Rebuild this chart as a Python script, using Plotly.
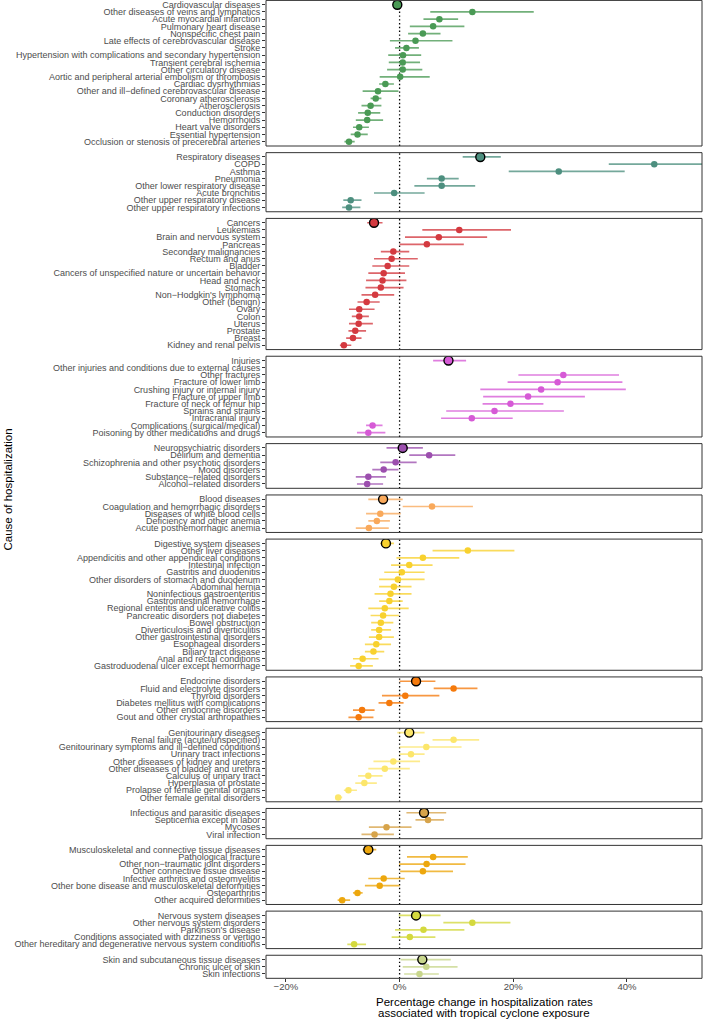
import plotly.graph_objects as go

# ---------------- data ----------------
cardio_labels = ["Cardiovascular diseases", "Other diseases of veins and lymphatics", "Acute myocardial infarction",
                 "Pulmonary heart disease", "Nonspecific chest pain", "Late effects of cerebrovascular disease", "Stroke",
                 "Hypertension with complications and secondary hypertension", "Transient cerebral ischemia",
                 "Other circulatory disease", "Aortic and peripheral arterial embolism or thrombosis",
                 "Cardiac dysrhythmias", "Other and ill\u2212defined cerebrovascular disease", "Coronary atherosclerosis",
                 "Atherosclerosis", "Conduction disorders", "Hemorrhoids", "Heart valve disorders",
                 "Essential hypertension", "Occlusion or stenosis of precerebral arteries"]
cardio_est = [-0.4, 12.8, 7.0, 5.9, 4.1, 2.8, 1.2, 0.6, 0.55, 0.55, 0.1, -2.5, -3.8, -4.2, -5.1, -5.6, -5.7, -7.1, -7.4, -8.9]
cardio_lo = [-1.1, 5.4, 4.2, 1.8, 1.5, -1.7, -0.8, -2.0, -1.9, -2.2, -3.5, -3.6, -6.5, -5.1, -6.7, -7.3, -7.7, -8.2, -8.6, -9.7]
cardio_hi = [0.3, 23.6, 10.3, 11.4, 7.2, 9.3, 3.4, 3.8, 3.6, 4.0, 5.3, -1.0, -0.2, -3.2, -3.2, -3.4, -2.9, -5.4, -5.6, -7.9]

resp_labels = ["Respiratory diseases", "COPD", "Asthma", "Pneumonia", "Other lower respiratory disease",
               "Acute bronchitis", "Other upper respiratory disease", "Other upper respiratory infections"]
resp_est = [14.2, 44.8, 28.0, 7.4, 7.4, -0.95, -8.6, -8.9]
resp_lo = [11.1, 36.8, 19.2, 4.8, 2.6, -4.5, -9.9, -10.1]
resp_hi = [17.8, 56.0, 39.6, 10.4, 13.3, 4.4, -6.7, -6.9]

cancer_labels = ["Cancers", "Leukemias", "Brain and nervous system", "Pancreas", "Secondary malignancies",
                 "Rectum and anus", "Bladder", "Cancers of unspecified nature or uncertain behavior", "Head and neck",
                 "Stomach", "Non\u2212Hodgkin's lymphoma", "Other (benign)", "Ovary", "Colon", "Uterus", "Prostate",
                 "Breast", "Kidney and renal pelvis"]
cancer_est = [-4.5, 10.5, 6.9, 4.8, -1.1, -1.4, -2.1, -2.8, -3.0, -3.3, -4.3, -5.8, -7.1, -7.1, -7.2, -7.8, -8.2, -9.8]
cancer_lo = [-5.7, 4.0, 0.95, 0.0, -3.3, -4.5, -4.8, -5.5, -5.9, -6.0, -6.7, -7.4, -8.9, -8.4, -8.9, -9.0, -9.4, -10.5]
cancer_hi = [-3.0, 19.6, 15.4, 11.3, 1.7, 3.2, 1.7, 0.95, 1.2, 0.7, -0.95, -3.5, -4.4, -5.4, -4.7, -5.9, -6.7, -8.5]

injury_labels = ["Injuries", "Other injuries and conditions due to external causes", "Other fractures",
                 "Fracture of lower limb", "Crushing injury or internal injury", "Fracture of upper limb",
                 "Fracture of neck of femur hip", "Sprains and strains", "Intracranial injury",
                 "Complications (surgical/medical)", "Poisoning by other medications and drugs"]
injury_est = [8.6, None, 28.8, 27.8, 24.9, 22.6, 19.5, 16.7, 12.7, -4.75, -5.5]
injury_lo = [5.9, None, 20.9, 19.0, 14.2, 14.7, 14.6, 8.2, 7.3, -5.9, -7.5]
injury_hi = [11.7, None, 38.6, 39.2, 39.8, 32.6, 25.3, 28.9, 19.9, -3.0, -2.5]

neuro_labels = ["Neuropsychiatric disorders", "Delirium and dementia", "Schizophrenia and other psychotic disorders",
                "Mood disorders", "Substance\u2212related disorders", "Alcohol\u2212related disorders"]
neuro_est = [0.55, 5.2, -0.7, -2.8, -5.5, -5.7]
neuro_lo = [-2.3, 1.7, -3.4, -4.8, -7.7, -7.5]
neuro_hi = [4.1, 9.8, 3.0, -0.2, -2.4, -2.9]

blood_labels = ["Blood diseases", "Coagulation and hemorrhagic disorders", "Diseases of white blood cells",
                "Deficiency and other anemia", "Acute posthemorrhagic anemia"]
blood_est = [-2.9, 5.7, -3.4, -4.0, -5.4]
blood_lo = [-5.5, 0.55, -5.9, -5.5, -7.7]
blood_hi = [0.55, 12.9, 0.2, -1.7, -1.9]

digest_labels = ["Digestive system diseases", "Other liver diseases", "Appendicitis and other appendiceal conditions",
                 "Intestinal infection", "Gastritis and duodenitis", "Other disorders of stomach and duodenum",
                 "Abdominal hernia", "Noninfectious gastroenteritis", "Gastrointestinal hemorrhage",
                 "Regional enteritis and ulcerative colitis", "Pancreatic disorders not diabetes", "Bowel obstruction",
                 "Diverticulosis and diverticulitis", "Other gastrointestinal disorders", "Esophageal disorders",
                 "Biliary tract disease", "Anal and rectal conditions", "Gastroduodenal ulcer except hemorrhage"]
digest_est = [-2.4, 12.0, 4.1, 1.7, 0.4, -0.3, -1.0, -1.6, -1.8, -2.6, -2.9, -3.3, -3.6, -3.6, -4.1, -4.6, -6.5, -7.2]
digest_lo = [-3.4, 5.8, -0.55, -1.5, -2.7, -3.6, -3.6, -4.4, -3.6, -5.5, -5.1, -5.0, -5.0, -5.4, -6.1, -6.1, -8.2, -8.7]
digest_hi = [-1.0, 20.2, 10.5, 5.8, 4.4, 4.4, 2.1, 2.1, 0.55, 1.6, -0.1, -1.1, -1.5, -1.0, -1.5, -2.7, -3.7, -4.7]

endo_labels = ["Endocrine disorders", "Fluid and electrolyte disorders", "Thyroid disorders",
               "Diabetes mellitus with complications", "Other endocrine disorders",
               "Gout and other crystal arthropathies"]
endo_est = [2.9, 9.5, 1.0, -1.8, -6.6, -7.2]
endo_lo = [0.0, 6.0, -3.1, -3.7, -8.2, -9.0]
endo_hi = [6.3, 13.7, 7.0, 0.7, -4.4, -4.6]

gu_labels = ["Genitourinary diseases", "Renal failure (acute/unspecified)",
             "Genitourinary symptoms and ill\u2212defined conditions", "Urinary tract infections",
             "Other diseases of kidney and ureters", "Other diseases of bladder and urethra",
             "Calculus of urinary tract", "Hyperplasia of prostate", "Prolapse of female genital organs",
             "Other female genital disorders"]
gu_est = [1.7, 9.5, 4.7, 2.0, -1.1, -2.6, -5.5, -6.2, -9.0, -10.8]
gu_lo = [-0.4, 5.8, 0.0, 0.0, -4.6, -5.5, -7.3, -7.8, -9.8, -11.3]
gu_hi = [4.4, 14.0, 10.9, 4.4, 3.6, 1.8, -3.0, -4.0, -7.5, -10.1]

infect_labels = ["Infectious and parasitic diseases", "Septicemia except in labor", "Mycoses", "Viral infection"]
infect_est = [4.3, 5.0, -2.3, -4.4]
infect_lo = [1.2, 2.8, -5.4, -6.7]
infect_hi = [8.2, 7.8, 2.1, -1.0]

msk_labels = ["Musculoskeletal and connective tissue diseases", "Pathological fracture",
              "Other non\u2212traumatic joint disorders", "Other connective tissue disease",
              "Infective arthritis and osteomyelitis", "Other bone disease and musculoskeletal deformities",
              "Osteoarthritis", "Other acquired deformities"]
msk_est = [-5.5, 5.9, 4.75, 4.1, -2.8, -3.5, -7.4, -10.1]
msk_lo = [-6.5, 1.3, -0.1, 0.1, -5.5, -6.1, -8.2, -10.9]
msk_hi = [-4.1, 12.0, 11.6, 9.4, 0.9, 0.0, -6.5, -8.7]

nerv_labels = ["Nervous system diseases", "Other nervous system disorders", "Parkinson's disease",
               "Conditions associated with dizziness or vertigo",
               "Other hereditary and degenerative nervous system conditions"]
nerv_est = [2.9, 12.8, 4.2, 1.8, -8.0]
nerv_lo = [-0.15, 7.7, -0.8, -1.4, -9.2]
nerv_hi = [7.2, 19.5, 11.4, 6.3, -5.9]

skin_labels = ["Skin and subcutaneous tissue diseases", "Chronic ulcer of skin", "Skin infections"]
skin_est = [4.0, 4.7, 3.5]
skin_lo = [0.2, 0.55, 0.8]
skin_hi = [9.0, 10.2, 6.9]

x_ticks = [-20, 0, 20, 40]

# ---------------- styling ----------------
panels = [
    (cardio_labels, cardio_est, cardio_lo, cardio_hi, (74, 154, 85)),
    (resp_labels, resp_est, resp_lo, resp_hi, (77, 143, 127)),
    (cancer_labels, cancer_est, cancer_lo, cancer_hi, (212, 58, 64)),
    (injury_labels, injury_est, injury_lo, injury_hi, (214, 90, 214)),
    (neuro_labels, neuro_est, neuro_lo, neuro_hi, (156, 79, 174)),
    (blood_labels, blood_est, blood_lo, blood_hi, (249, 169, 91)),
    (digest_labels, digest_est, digest_lo, digest_hi, (248, 209, 46)),
    (endo_labels, endo_est, endo_lo, endo_hi, (245, 122, 12)),
    (gu_labels, gu_est, gu_lo, gu_hi, (252, 230, 107)),
    (infect_labels, infect_est, infect_lo, infect_hi, (215, 164, 75)),
    (msk_labels, msk_est, msk_lo, msk_hi, (237, 167, 13)),
    (nerv_labels, nerv_est, nerv_lo, nerv_hi, (212, 217, 62)),
    (skin_labels, skin_est, skin_lo, skin_hi, (200, 214, 140)),
]

W, H = 703, 1019
M_L, M_R, M_T, M_B = 266, 1, 0, 40
PH = H - M_T - M_B
PW = W - M_L - M_R
row_s = 7.208
gap = 6.65
top0 = 0.4

FONT = "Liberation Sans, Arial, sans-serif"
TICKC = "#4d4d4d"


def fmt_pct(v):
    return ("\u2212%d%%" % (-v)) if v < 0 else ("%d%%" % v)


fig = go.Figure()
layout = dict(
    template="none",
    width=W, height=H,
    margin=dict(l=M_L, r=M_R, t=M_T, b=M_B, pad=0, autoexpand=False),
    paper_bgcolor="white", plot_bgcolor="white",
    showlegend=False,
    font=dict(family=FONT, color="black"),
)
shapes = []
y_px = top0
n_p = len(panels)
for k, (labels, est, lo, hi, rgb) in enumerate(panels):
    n = len(labels)
    h = (n + 0.2) * row_s
    p_top, p_bot = y_px, y_px + h
    y_px = p_bot + gap
    dom = [(PH - p_bot) / PH, (PH - p_top) / PH]
    yname = "y" if k == 0 else f"y{k + 1}"
    axkey = "yaxis" if k == 0 else f"yaxis{k + 1}"
    layout[axkey] = dict(
        domain=dom, anchor="x", type="category",
        categoryorder="array", categoryarray=labels,
        tickmode="array", tickvals=labels, ticktext=labels,
        range=[n - 0.4, -0.6], automargin=False,
        showgrid=False, zeroline=False, showline=False,
        ticks="outside", ticklen=3, tickwidth=1, tickcolor="#333333",
        tickfont=dict(size=9, color=TICKC, family=FONT),
        fixedrange=True,
    )
    col = "rgb(%d,%d,%d)" % rgb
    lcol = "rgba(%d,%d,%d,0.78)" % rgb
    ep = [None if (e is None) else h_ - e for e, h_ in zip(est, hi)]
    em = [None if (e is None) else e - l_ for e, l_ in zip(est, lo)]
    # sub-categories
    fig.add_trace(go.Scatter(
        x=est[1:], y=labels[1:], mode="markers", xaxis="x", yaxis=yname,
        marker=dict(size=6.5, color=col, line=dict(width=0)),
        error_x=dict(type="data", symmetric=False, array=ep[1:], arrayminus=em[1:],
                     width=0, thickness=1.7, color=lcol),
        hoverinfo="skip",
    ))
    # overall category
    fig.add_trace(go.Scatter(
        x=est[:1], y=labels[:1], mode="markers", xaxis="x", yaxis=yname,
        marker=dict(size=9, color=col, line=dict(width=1.4, color="black")),
        error_x=dict(type="data", symmetric=False, array=ep[:1], arrayminus=em[:1],
                     width=0, thickness=1.7, color=lcol),
        hoverinfo="skip",
    ))
    yref_dom = ("y" if k == 0 else f"y{k + 1}") + " domain"
    shapes.append(dict(type="line", xref="x", yref=yref_dom, x0=0, x1=0, y0=0, y1=1,
                       line=dict(color="black", width=1.3, dash="1.4px,2.4px"), layer="below"))
    shapes.append(dict(type="rect", xref="x domain", yref=yref_dom, x0=0, x1=1, y0=0, y1=1,
                       line=dict(color="#333333", width=1), fillcolor="rgba(0,0,0,0)", layer="above"))

layout["xaxis"] = dict(
    domain=[0, 1], anchor="y%d" % n_p, range=[-23.5, 53.2],
    tickmode="array", tickvals=x_ticks, ticktext=[fmt_pct(v) for v in x_ticks],
    showgrid=False, zeroline=False, showline=False, automargin=False,
    ticks="outside", ticklen=3, tickwidth=1, tickcolor="#333333",
    tickfont=dict(size=9.5, color=TICKC, family=FONT),
    ticklabelstandoff=-4,
    fixedrange=True,
)
layout["shapes"] = shapes


def py(p):
    return (PH - p) / PH


def px_(p):
    return (p - M_L) / PW


layout["annotations"] = [
    dict(text="Percentage change in hospitalization rates", xref="paper", yref="paper",
         x=0.5, y=py(1001.7), xanchor="center", yanchor="middle", showarrow=False,
         font=dict(size=11.5, color="black", family=FONT)),
    dict(text="associated with tropical cyclone exposure", xref="paper", yref="paper",
         x=0.5, y=py(1013.2), xanchor="center", yanchor="middle", showarrow=False,
         font=dict(size=11.5, color="black", family=FONT)),
    dict(text="Cause of hospitalization", xref="paper", yref="paper",
         x=px_(7), y=py(489.5), xanchor="center", yanchor="middle", textangle=-90,
         showarrow=False, font=dict(size=11.5, color="black", family=FONT)),
]
fig.update_layout(**layout)
fig.write_html("out.html",
               config={"displayModeBar": False, "staticPlot": True},
               post_script="document.body.style.margin='0px';document.body.style.overflow='hidden';")
